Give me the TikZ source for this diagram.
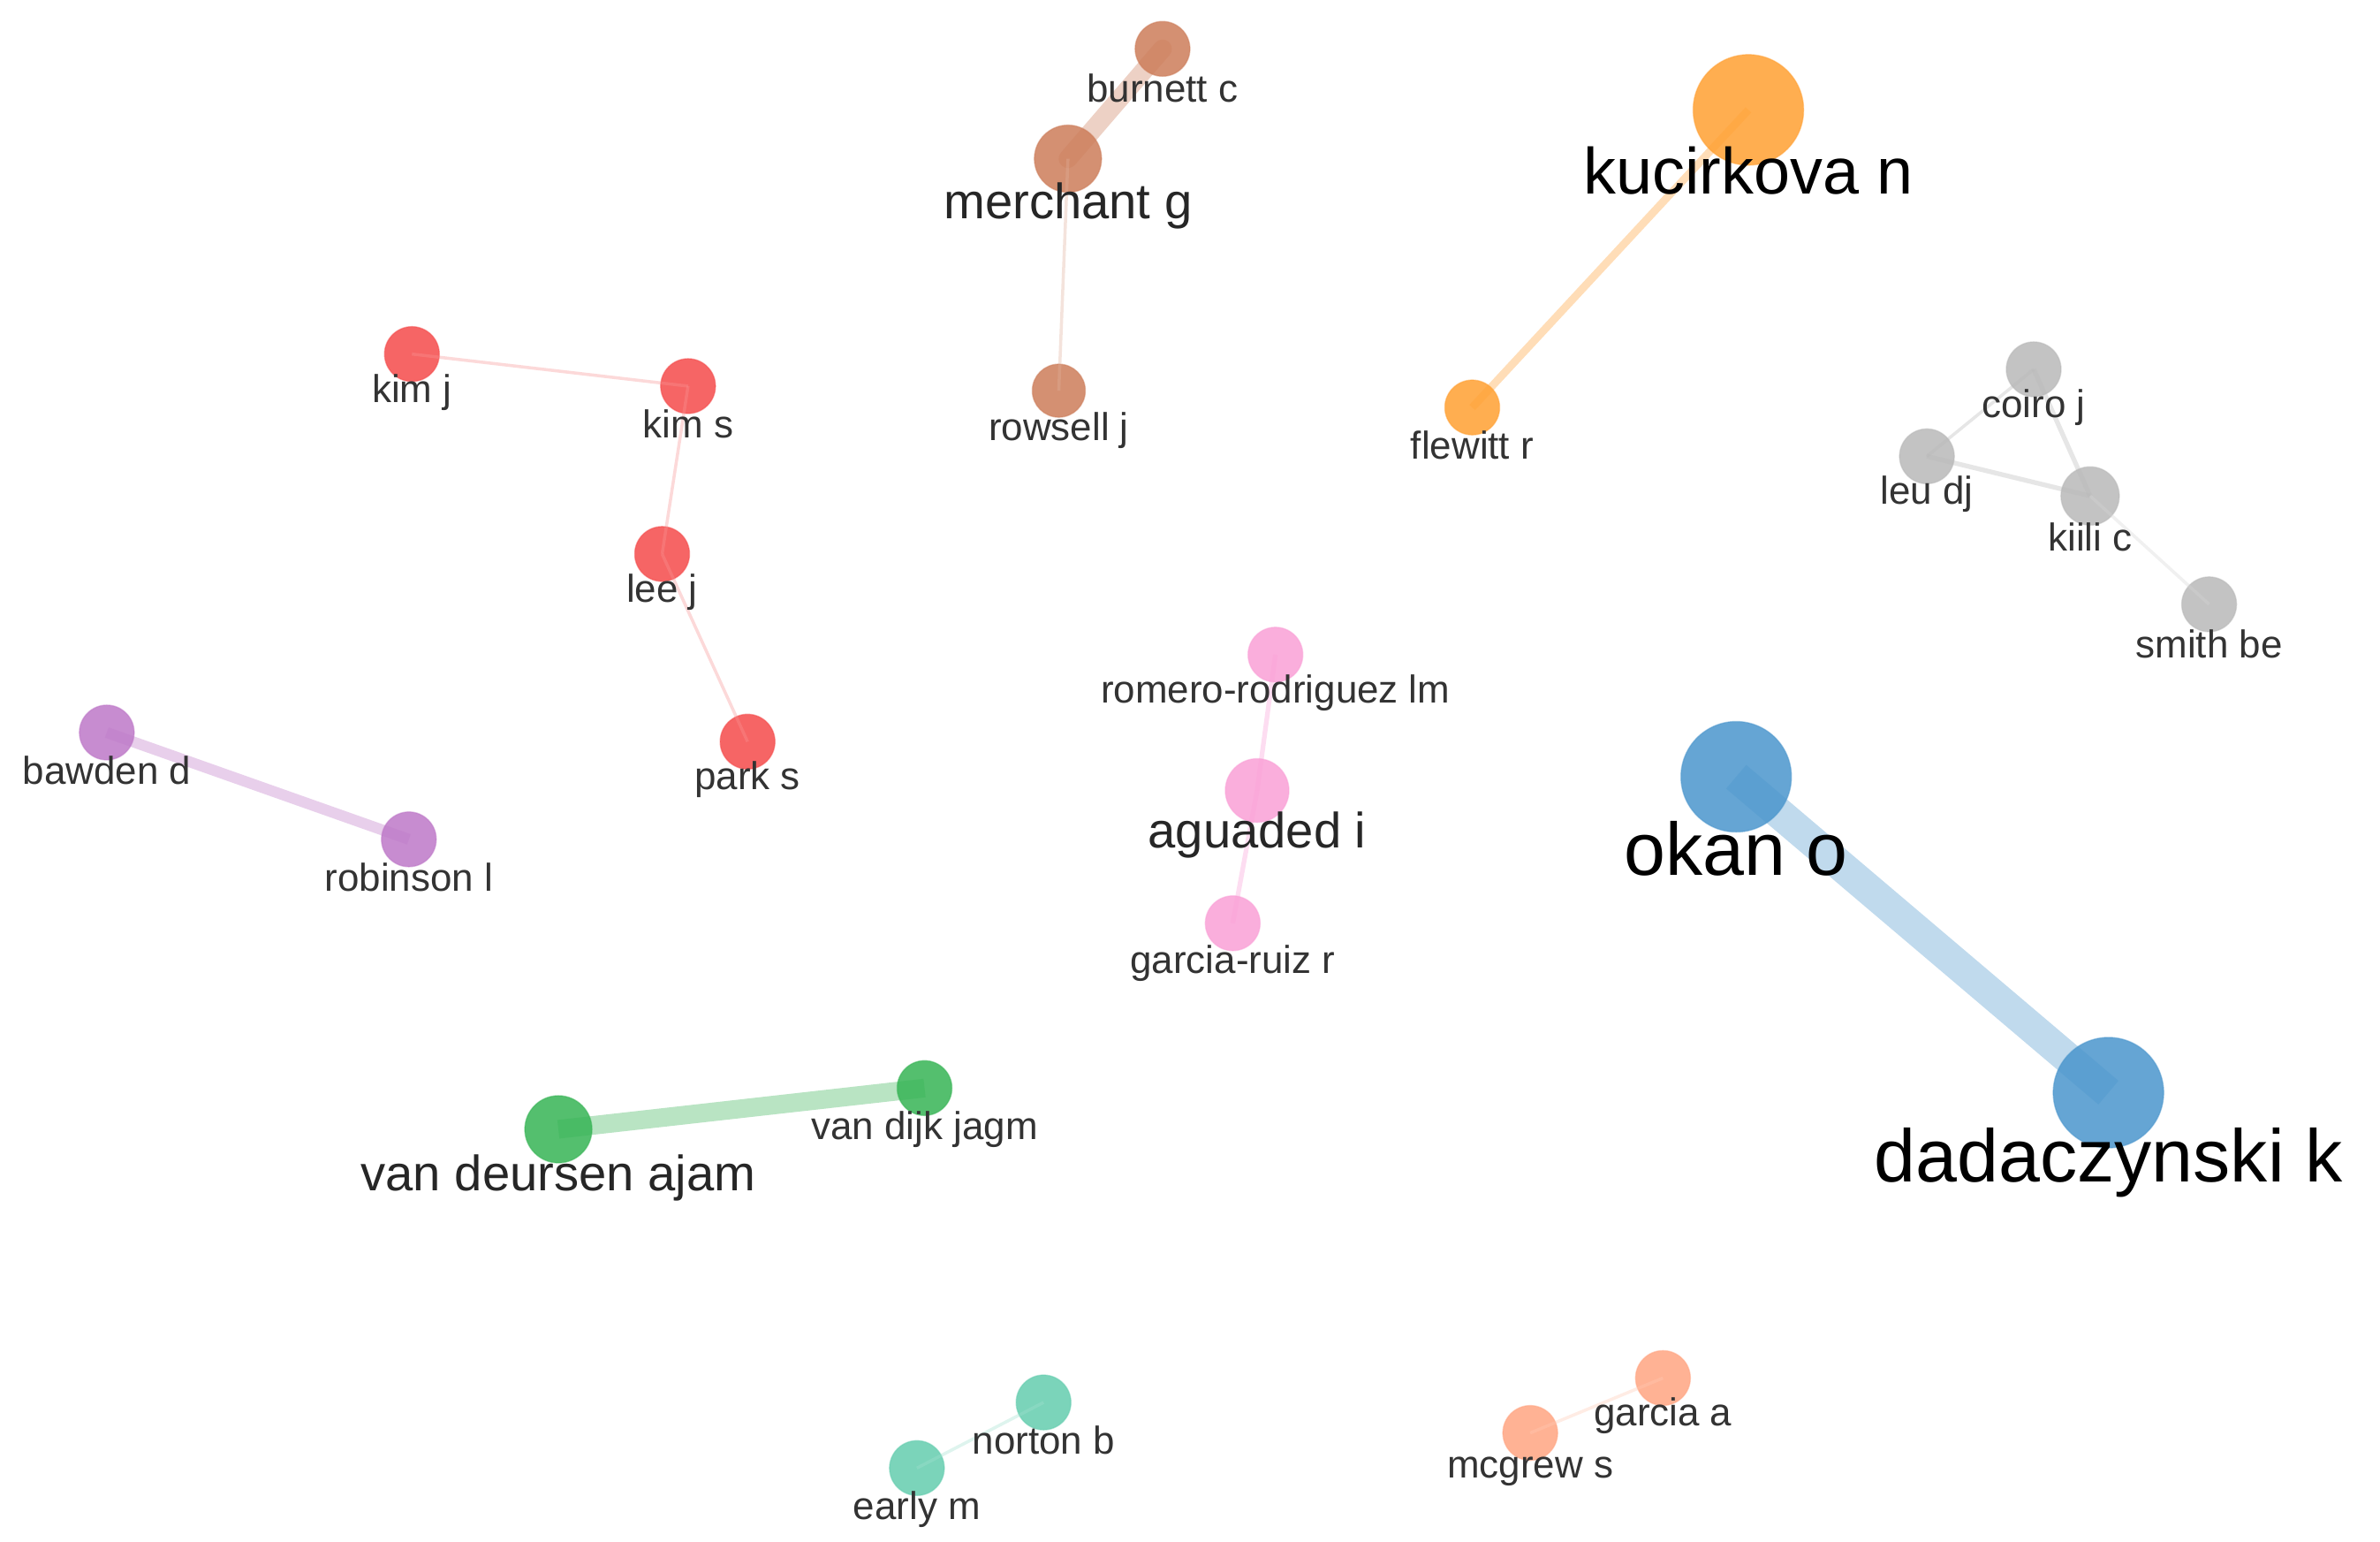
\documentclass[tikz,border=0pt]{standalone}
\usepackage{fontspec}
\setmainfont{Liberation Sans}
\begin{document}
\begin{tikzpicture}[x=0.01727cm,y=-0.01727cm,
  v/.style={circle,inner sep=0pt,minimum size=#1,fill opacity=0.85,draw opacity=0.5},
  lab/.style={font=\fontsize{12.5}{14}\selectfont,text=black!80,inner sep=0pt},
  labm/.style={font=\fontsize{16}{18}\selectfont,text=black!85,inner sep=0pt},
  labb/.style={font=\fontsize{24}{26}\selectfont,text=black,inner sep=0pt},
  e/.style={line width=#1,opacity=0.35}]
\definecolor{cbr}{RGB}{205,125,90}
\definecolor{cor}{RGB}{255,160,50}
\definecolor{cre}{RGB}{245,75,75}
\definecolor{cgr}{RGB}{185,185,185}
\definecolor{cpi}{RGB}{250,160,215}
\definecolor{cpu}{RGB}{190,120,200}
\definecolor{cbl}{RGB}{75,150,205}
\definecolor{cgn}{RGB}{55,180,85}
\definecolor{cte}{RGB}{100,205,175}
\definecolor{csa}{RGB}{255,165,130}
\useasboundingbox[fill=white] (0,0) rectangle (1560,1010);
% nodes
\node[v=0.62cm,fill=cbr,draw=cbr] (burnett) at (762,32) {};
\node[v=0.76cm,fill=cbr,draw=cbr] (merchant) at (700,104) {};
\node[v=0.6cm,fill=cbr,draw=cbr] (rowsell) at (694,256) {};
\node[v=1.25cm,fill=cor,draw=cor] (kucirkova) at (1146,72) {};
\node[v=0.62cm,fill=cor,draw=cor] (flewitt) at (965,267) {};
\node[v=0.62cm,fill=cre,draw=cre] (kimj) at (270,232) {};
\node[v=0.62cm,fill=cre,draw=cre] (kims) at (451,253) {};
\node[v=0.62cm,fill=cre,draw=cre] (leej) at (434,363) {};
\node[v=0.62cm,fill=cre,draw=cre] (parks) at (490,486) {};
\node[v=0.62cm,fill=cgr,draw=cgr] (coiro) at (1333,242) {};
\node[v=0.62cm,fill=cgr,draw=cgr] (leu) at (1263,299) {};
\node[v=0.66cm,fill=cgr,draw=cgr] (kiili) at (1370,325) {};
\node[v=0.62cm,fill=cgr,draw=cgr] (smith) at (1448,396) {};
\node[v=0.62cm,fill=cpi,draw=cpi] (romero) at (836,429) {};
\node[v=0.72cm,fill=cpi,draw=cpi] (aguaded) at (824,518) {};
\node[v=0.62cm,fill=cpi,draw=cpi] (garciar) at (808,605) {};
\node[v=0.62cm,fill=cpu,draw=cpu] (bawden) at (70,480) {};
\node[v=0.62cm,fill=cpu,draw=cpu] (robinson) at (268,550) {};
\node[v=1.25cm,fill=cbl,draw=cbl] (okan) at (1138,509) {};
\node[v=1.25cm,fill=cbl,draw=cbl] (dada) at (1382,716) {};
\node[v=0.76cm,fill=cgn,draw=cgn] (vdeursen) at (366,740) {};
\node[v=0.62cm,fill=cgn,draw=cgn] (vdijk) at (606,713) {};
\node[v=0.62cm,fill=cte,draw=cte] (norton) at (684,919) {};
\node[v=0.62cm,fill=cte,draw=cte] (early) at (601,962) {};
\node[v=0.62cm,fill=csa,draw=csa] (garciaa) at (1090,903) {};
\node[v=0.62cm,fill=csa,draw=csa] (mcgrew) at (1003,939) {};
% edges
\draw[e=6pt,cbr,line cap=round] (burnett.center) -- (merchant.center);
\draw[e=1pt,cbr!60] (merchant.center) -- (rowsell.center);
\draw[e=2.5pt,cor] (kucirkova.center) -- (flewitt.center);
\draw[e=1pt,cre!60] (kimj.center) -- (kims.center);
\draw[e=1pt,cre!60] (kims.center) -- (leej.center);
\draw[e=1pt,cre!60] (leej.center) -- (parks.center);
\draw[e=1pt,cgr] (coiro.center) -- (leu.center);
\draw[e=1.5pt,cgr] (coiro.center) -- (kiili.center);
\draw[e=1.5pt,cgr] (leu.center) -- (kiili.center);
\draw[e=1pt,cgr!60] (kiili.center) -- (smith.center);
\draw[e=1.5pt,cpi] (romero.center) -- (aguaded.center);
\draw[e=1.5pt,cpi] (aguaded.center) -- (garciar.center);
\draw[e=3.5pt,cpu] (bawden.center) -- (robinson.center);
\draw[e=10pt,cbl] (okan.center) -- (dada.center);
\draw[e=6pt,cgn] (vdeursen.center) -- (vdijk.center);
\draw[e=1pt,cte!60] (norton.center) -- (early.center);
\draw[e=1pt,csa!60] (garciaa.center) -- (mcgrew.center);
% labels
\node[lab] (lburnett) at (762,58) {burnett c};
\node[labm] (lmerchant) at (700,135) {merchant g};
\node[lab] (lrowsell) at (694,282) {rowsell j};
\node[labb,font=\fontsize{21}{24}\selectfont] (lkucirkova) at (1146,112) {kucirkova n};
\node[lab] (lflewitt) at (965,292) {flewitt r};
\node[lab] (lkimj) at (270,257) {kim j};
\node[lab] (lkims) at (451,278) {kim s};
\node[lab] (lleej) at (434,388) {lee j};
\node[lab] (lparks) at (490,511) {park s};
\node[lab] (lcoiro) at (1333,267) {coiro j};
\node[lab] (lleu) at (1263,324) {leu dj};
\node[lab] (lkiili) at (1370,352) {kiili c};
\node[lab] (lsmith) at (1448,422) {smith be};
\node[lab] (lromero) at (836,454) {romero-rodriguez lm};
\node[labm] (laguaded) at (824,547) {aguaded i};
\node[lab] (lgarciar) at (808,631) {garcia-ruiz r};
\node[lab] (lbawden) at (70,505) {bawden d};
\node[lab] (lrobinson) at (268,575) {robinson l};
\node[labb] (lokan) at (1138,556) {okan o};
\node[labb] (ldada) at (1382,762) {dadaczynski k};
\node[labm] (lvdeursen) at (366,772) {van deursen ajam};
\node[lab] (lvdijk) at (606,740) {van dijk jagm};
\node[lab] (lnorton) at (684,944) {norton b};
\node[lab] (learly) at (601,989) {early m};
\node[lab] (lgarciaa) at (1090,928) {garcia a};
\node[lab] (lmcgrew) at (1003,964) {mcgrew s};
\end{tikzpicture}
\end{document}
